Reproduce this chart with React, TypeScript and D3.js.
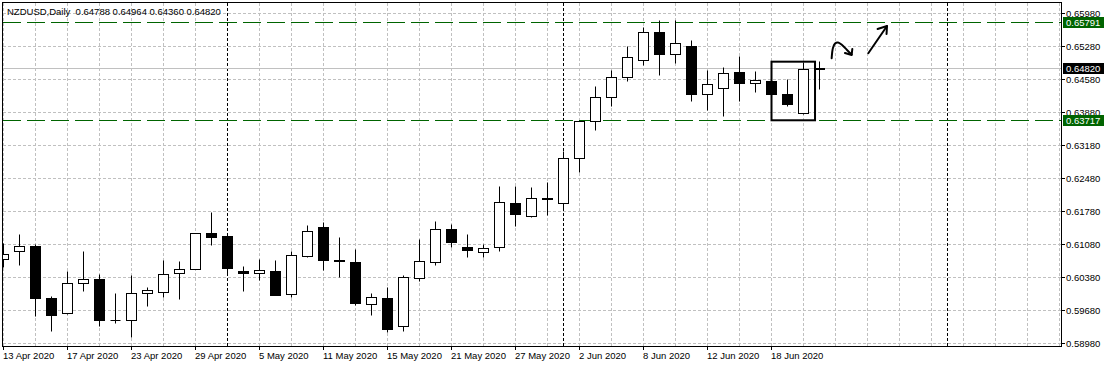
import React from "react";
import * as d3 from "d3";

const symbolTitle = "NZDUSD,Daily  0.64788 0.64964 0.64360 0.64820";

const dates = [
  "2020-04-13","2020-04-14","2020-04-15","2020-04-16","2020-04-17","2020-04-20","2020-04-21","2020-04-22","2020-04-23","2020-04-24",
  "2020-04-27","2020-04-28","2020-04-29","2020-04-30","2020-05-01","2020-05-04","2020-05-05","2020-05-06","2020-05-07","2020-05-08",
  "2020-05-11","2020-05-12","2020-05-13","2020-05-14","2020-05-15","2020-05-18","2020-05-19","2020-05-20","2020-05-21","2020-05-22",
  "2020-05-25","2020-05-26","2020-05-27","2020-05-28","2020-05-29","2020-06-01","2020-06-02","2020-06-03","2020-06-04","2020-06-05",
  "2020-06-08","2020-06-09","2020-06-10","2020-06-11","2020-06-12","2020-06-15","2020-06-16","2020-06-17","2020-06-18","2020-06-19",
  "2020-06-22","2020-06-23",
];

const openP = [
  0.60762,0.60923,0.61044,0.59935,0.59616,0.60253,0.60344,0.59460,0.59474,0.60041,
  0.60062,0.60465,0.60550,0.61313,0.61256,0.60514,0.60465,0.60514,0.60011,0.60832,
  0.61441,0.60747,0.60698,0.59807,0.59935,0.59347,0.60359,0.60705,0.61398,0.61016,
  0.60910,0.61016,0.61950,0.61666,0.62047,0.61950,0.62896,0.63689,0.64198,0.64622,
  0.64975,0.65577,0.65117,0.65286,0.64262,0.64381,0.64735,0.64495,0.64544,0.64262,
  0.63859,0.64788,
];
const highP = [
  0.61101,0.61299,0.61086,0.59983,0.60514,0.60923,0.60450,0.60041,0.60414,0.60168,
  0.60747,0.60726,0.61320,0.61759,0.61260,0.60605,0.60762,0.60732,0.60938,0.61489,
  0.61547,0.61229,0.60980,0.60041,0.60168,0.60429,0.61186,0.61574,0.61504,0.61299,
  0.61080,0.62302,0.62317,0.62289,0.62395,0.63044,0.63695,0.64438,0.64777,0.65286,
  0.65675,0.65823,0.65838,0.65414,0.64777,0.64835,0.65074,0.64756,0.64560,0.64586,
  0.64941,0.64964,
];
const lowP = [
  0.60592,0.60626,0.59544,0.59226,0.59600,0.60075,0.59332,0.59404,0.59107,0.59756,
  0.59947,0.59913,0.60545,0.61050,0.60450,0.60075,0.60308,0.60000,0.59947,0.60796,
  0.60520,0.60380,0.59778,0.59566,0.59205,0.59226,0.60287,0.60626,0.61008,0.60796,
  0.60811,0.60923,0.61468,0.61644,0.61687,0.61829,0.62607,0.63505,0.64014,0.64529,
  0.64883,0.64671,0.64919,0.64105,0.63929,0.63787,0.64105,0.64296,0.64240,0.63999,
  0.63838,0.64360,
];
const closeP = [
  0.60874,0.61044,0.59926,0.59566,0.60253,0.60338,0.59459,0.59470,0.60041,0.60111,
  0.60444,0.60550,0.61313,0.61229,0.60563,0.60465,0.60520,0.60005,0.60847,0.61347,
  0.60732,0.60711,0.59829,0.59956,0.59277,0.60380,0.60726,0.61398,0.61122,0.60953,
  0.60995,0.61971,0.61716,0.62047,0.62035,0.62896,0.63689,0.64198,0.64622,0.65047,
  0.65577,0.65102,0.65344,0.64268,0.64474,0.64707,0.64487,0.64565,0.64253,0.64050,
  0.64798,0.64820,
];

const yTickValues = [0.65980,0.65280,0.64580,0.63880,0.63180,0.62480,0.61780,0.61080,0.60380,0.59680,0.58980];
const levelLines = [0.65791, 0.63717];
const bidPrice = 0.64820;
const separatorIdx = [14, 35, 59];
const labelEvery = 4;

// annotations in (bar index, price)
const boxAnn = { i0: 48, i1: 50.72, p0: 0.63715, p1: 0.64958 };
const squiggle: [number, number][] = [
  [51.76,0.65030],[51.84,0.65248],[51.97,0.65344],[52.16,0.65365],[52.41,0.65312],[52.72,0.65206],[53.01,0.65110],
];
const squiggleHead: [number, number][] = [[53.05,0.65227],[53.01,0.65100],[52.59,0.65142]];
const arrowLine: [number, number][] = [[54.05,0.65136],[55.22,0.65715]];
const arrowHead: [number, number][] = [[54.63,0.65651],[55.22,0.65715],[55.19,0.65545]];

const W = 1107, H = 367;
const FONT = "'Liberation Sans', Arial, sans-serif";

export default function App() {
  const x = d3.scaleLinear().domain([0, 66]).range([3, 3 + 16 * 66]);
  const y = d3.scaleLinear().domain([0.5898, 0.6598]).range([343.5, 13.5]);
  const crisp = (v: number) => Math.round(v - 0.5) + 0.5;
  const cx = (i: number) => x(i) + 0.5;
  const parse = d3.timeParse("%Y-%m-%d");
  const fmtDate = d3.timeFormat("%-d %b %Y");
  const fmtP = d3.format(".5f");
  const left = 3, right = 1061, top = 3, bottom = 346;

  const candles = dates.map((d, i) => ({ i, o: openP[i], h: highP[i], l: lowP[i], c: closeP[i] }));
  const gridX = d3.range(0, 67, 2);
  const labelIdx = d3.range(0, dates.length, labelEvery);
  const line = d3.line<[number, number]>().x(d => x(d[0]) + 0.5).y(d => y(d[1]));
  const curve = d3.line<[number, number]>().x(d => x(d[0]) + 0.5).y(d => y(d[1])).curve(d3.curveCatmullRom);

  return (
    <svg width={W} height={H} style={{ position: "absolute", left: 0, top: 0, background: "#fff" }} fontFamily={FONT}>
      <defs>
        <clipPath id="plot">
          <rect x={left} y={top} width={right - left} height={bottom - top} />
        </clipPath>
      </defs>
      <rect x={0} y={0} width={W} height={H} fill="#fff" />
      {/* grid */}
      <g stroke="#c0c0c0" strokeWidth={1} strokeDasharray="3,2" clipPath="url(#plot)">
        {gridX.map(i => (
          <line key={"gx" + i} x1={cx(i)} x2={cx(i)} y1={top} y2={bottom} />
        ))}
        {yTickValues.map(v => (
          <line key={"gy" + v} x1={left} x2={right} y1={crisp(y(v))} y2={crisp(y(v))} />
        ))}
      </g>
      {/* period separators */}
      <g stroke="#000" strokeWidth={1} strokeDasharray="3,2" clipPath="url(#plot)">
        {separatorIdx.map(i => (
          <line key={"sep" + i} x1={cx(i)} x2={cx(i)} y1={top} y2={bottom} />
        ))}
      </g>
      {/* bid line */}
      <line x1={left} x2={right} y1={crisp(y(bidPrice))} y2={crisp(y(bidPrice))} stroke="#c0c0c0" strokeWidth={1} />
      {/* levels */}
      <g stroke="#006400" strokeWidth={1} strokeDasharray="18,6">
        {levelLines.map(v => (
          <line key={"lv" + v} x1={left} x2={right} y1={crisp(y(v))} y2={crisp(y(v))} />
        ))}
      </g>
      {/* candles */}
      <g clipPath="url(#plot)">
        {candles.map(d => {
          const xc = cx(d.i);
          const up = d.c >= d.o;
          const yt = crisp(y(Math.max(d.o, d.c)));
          const yb = crisp(y(Math.min(d.o, d.c)));
          return (
            <g key={"c" + d.i}>
              <line x1={xc} x2={xc} y1={crisp(y(d.h))} y2={crisp(y(d.l))} stroke="#000" strokeWidth={1} />
              {yb - yt < 1 ? (
                <line x1={xc - 5} x2={xc + 5} y1={yt} y2={yt} stroke="#000" strokeWidth={1} />
              ) : (
                <rect x={xc - 5} y={yt} width={10} height={yb - yt} fill={up ? "#fff" : "#000"} stroke="#000" strokeWidth={1} />
              )}
            </g>
          );
        })}
      </g>
      {/* annotations */}
      <rect
        x={cx(boxAnn.i0)}
        y={y(boxAnn.p1)}
        width={cx(boxAnn.i1) - cx(boxAnn.i0)}
        height={y(boxAnn.p0) - y(boxAnn.p1)}
        fill="none"
        stroke="#000"
        strokeWidth={2}
      />
      <g fill="none" stroke="#000" strokeWidth={2} strokeLinecap="round" strokeLinejoin="round">
        <path d={curve(squiggle) || ""} />
        <path d={line(squiggleHead) || ""} />
        <path d={line(arrowLine) || ""} />
        <path d={line(arrowHead) || ""} />
      </g>
      {/* frame */}
      <rect x={2.5} y={2.5} width={right - 2} height={bottom - 2} fill="none" stroke="#000" strokeWidth={1} />
      {/* title */}
      <text x={7} y={14.5} fontSize={9.5} fill="#000" style={{ whiteSpace: "pre" }}>{symbolTitle}</text>
      {/* right axis */}
      <g fontSize={9.5} fill="#000">
        {yTickValues.map(v => (
          <g key={"yl" + v}>
            <line x1={right + 1} x2={right + 4} y1={crisp(y(v))} y2={crisp(y(v))} stroke="#000" />
            <text x={1066} y={crisp(y(v)) + 3.5}>{fmtP(v)}</text>
          </g>
        ))}
      </g>
      {[...levelLines.map(v => ({ v, bg: "#006400" })), { v: bidPrice, bg: "#000" }].map(d => (
        <g key={"hl" + d.v}>
          <rect x={1063} y={crisp(y(d.v)) - 5.5} width={41} height={11} fill={d.bg} />
          <text x={1066} y={crisp(y(d.v)) + 3.5} fontSize={9.5} fill="#fff">{fmtP(d.v)}</text>
        </g>
      ))}
      {/* bottom axis */}
      <g fontSize={9.5} fill="#000">
        {labelIdx.map(i => (
          <g key={"xl" + i}>
            <line x1={cx(i)} x2={cx(i)} y1={bottom + 0.5} y2={bottom + 4} stroke="#000" />
            <text x={x(i)} y={359}>{fmtDate(parse(dates[i]) as Date)}</text>
          </g>
        ))}
      </g>
    </svg>
  );
}
